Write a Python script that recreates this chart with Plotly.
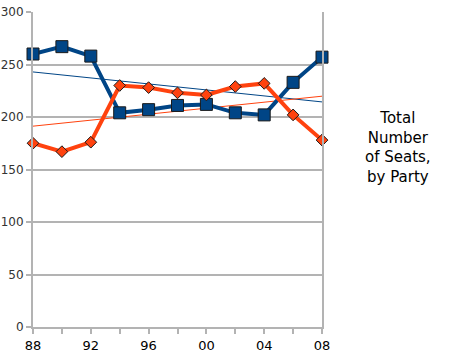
import numpy as np
import plotly.graph_objects as go

years = [1988, 1990, 1992, 1994, 1996, 1998, 2000, 2002, 2004, 2006, 2008]
blue_seats = [260, 267, 258, 204, 207, 211, 212, 204, 202, 233, 257]
orange_seats = [175, 167, 176, 230, 228, 223, 221, 229, 232, 202, 178]
x_tick_vals = [1988, 1992, 1996, 2000, 2004, 2008]
x_tick_text = ["88", "92", "96", "00", "04", "08"]
y_tick_vals = [0, 50, 100, 150, 200, 250, 300]

BLUE = "#004586"
ORANGE = "#ff420e"

xs = np.array(years, dtype=float)
bfit = np.polyfit(xs, blue_seats, 1)
ofit = np.polyfit(xs, orange_seats, 1)
xend = np.array([years[0], years[-1]], dtype=float)

fig = go.Figure()
fig.add_trace(go.Scatter(x=xend, y=np.polyval(bfit, xend), mode="lines",
                         line=dict(color=BLUE, width=1), showlegend=False))
fig.add_trace(go.Scatter(x=xend, y=np.polyval(ofit, xend), mode="lines",
                         line=dict(color=ORANGE, width=1), showlegend=False))
fig.add_trace(go.Scatter(x=years, y=blue_seats, mode="lines+markers",
                         line=dict(color=BLUE, width=4), cliponaxis=False,
                         marker=dict(symbol="square", size=12, color=BLUE,
                                     line=dict(color="#1a1a1a", width=1)),
                         showlegend=False))
fig.add_trace(go.Scatter(x=years, y=orange_seats, mode="lines+markers",
                         line=dict(color=ORANGE, width=4), cliponaxis=False,
                         marker=dict(symbol="diamond", size=9, color=ORANGE,
                                     line=dict(color="#1a1a1a", width=1)),
                         showlegend=False))

fig.add_annotation(text="Total<br>Number<br>of Seats,<br>by Party",
                   xref="paper", yref="paper", x=1.263, y=0.571,
                   xanchor="center", yanchor="middle", showarrow=False,
                   align="center", font=dict(family="DejaVu Sans", size=15, color="#000"))

fig.update_layout(
    width=457, height=363,
    margin=dict(l=33, r=135, t=12, b=36, autoexpand=False),
    paper_bgcolor="white", plot_bgcolor="white",
    font=dict(family="DejaVu Sans", color="#000"),
)
fig.update_xaxes(range=[1988, 2008], tickmode="array", tickvals=years,
                 ticktext=[x_tick_text[x_tick_vals.index(y)] if y in x_tick_vals else "" for y in years],
                 ticks="outside", ticklen=5, tickcolor="#b3b3b3", tickwidth=2,
                 showgrid=False, showline=True, linecolor="#b3b3b3", linewidth=2,
                 mirror=False, zeroline=False, automargin=False,
                 tickfont=dict(size=13, color="#000"))
fig.update_yaxes(range=[0, 300], tickmode="array", tickvals=y_tick_vals,
                 ticks="outside", ticklen=5, tickcolor="#b3b3b3", tickwidth=2,
                 showgrid=True, gridcolor="#b3b3b3", gridwidth=2,
                 showline=True, linecolor="#b3b3b3", linewidth=2, mirror=True,
                 zeroline=False, automargin=False,
                 tickfont=dict(size=12, color="#333"))

fig.write_html("out.html", config={"displayModeBar": False},
               post_script="document.body.style.margin='0';")
